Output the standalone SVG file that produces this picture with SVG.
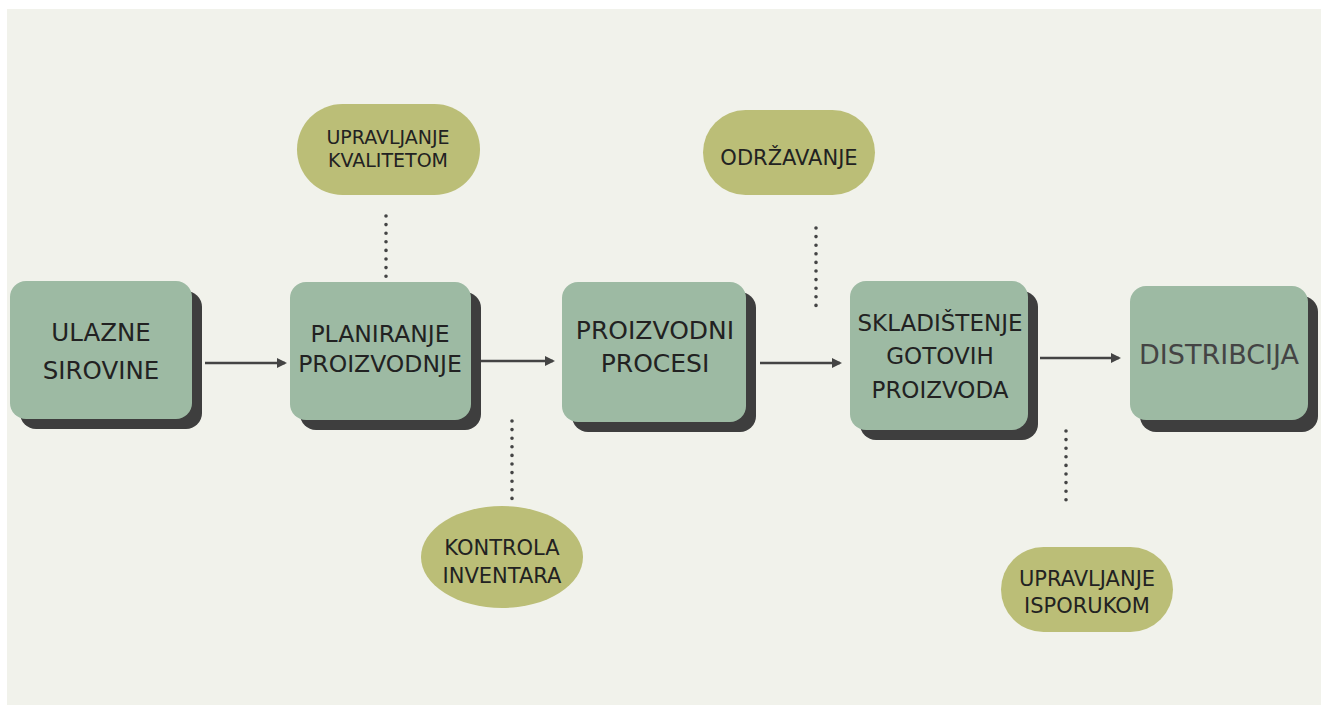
<svg xmlns="http://www.w3.org/2000/svg" width="1327" height="711" viewBox="0 0 1327 711">
<defs>
<style>
.bg{fill:#f1f2eb}
.sh{fill:#3e3e3e}
.bx{fill:#9dbaa3}
.pl{fill:#bbbe77}
.t{font-family:"DejaVu Sans","Liberation Sans",sans-serif;fill:#222;text-anchor:middle}
.dot{stroke:#444;stroke-width:3.6;stroke-linecap:round;stroke-dasharray:0 8.6;fill:none}
.ar{stroke:#444;stroke-width:2.5;fill:none;marker-end:url(#ah)}
</style>
<marker id="ah" viewBox="0 0 10 10" refX="8" refY="5" markerWidth="4" markerHeight="4" orient="auto" markerUnits="strokeWidth">
<path d="M0,0 L10,5 L0,10 z" fill="#444"/>
</marker>
</defs>
<rect x="0" y="0" width="1327" height="711" fill="#fff"/>
<rect class="bg" x="7" y="9" width="1314" height="696"/>

<g id="connectors">
<line class="ar" x1="205" y1="363" x2="285" y2="363"/>
<line class="ar" x1="481" y1="361" x2="553" y2="361"/>
<line class="ar" x1="760" y1="363" x2="840" y2="363"/>
<line class="ar" x1="1040" y1="358" x2="1119" y2="358"/>
<line class="dot" x1="386" y1="216" x2="386" y2="278"/>
<line class="dot" x1="512" y1="421" x2="512" y2="499"/>
<line class="dot" x1="816" y1="228" x2="816" y2="306"/>
<line class="dot" x1="1066" y1="431" x2="1066" y2="508"/>
</g>

<g id="ulazne">
<rect class="sh" x="20" y="291" width="182" height="138" rx="16"/>
<rect class="bx" x="10" y="281" width="182" height="138" rx="16"/>
<text class="t" font-size="24.5" x="101" y="341">ULAZNE</text>
<text class="t" font-size="24.5" x="101" y="379">SIROVINE</text>
</g>

<g id="planiranje">
<rect class="sh" x="300" y="292" width="181" height="138" rx="16"/>
<rect class="bx" x="290" y="282" width="181" height="138" rx="16"/>
<text class="t" font-size="23.5" x="380" y="342">PLANIRANJE</text>
<text class="t" font-size="23.5" x="380" y="372">PROIZVODNJE</text>
</g>

<g id="proizvodni">
<rect class="sh" x="572" y="292" width="184" height="140" rx="16"/>
<rect class="bx" x="562" y="282" width="184" height="140" rx="16"/>
<text class="t" font-size="25" x="655" y="339">PROIZVODNI</text>
<text class="t" font-size="25" x="655" y="372">PROCESI</text>
</g>

<g id="skladistenje">
<rect class="sh" x="860" y="291" width="178" height="149" rx="16"/>
<rect class="bx" x="850" y="281" width="178" height="149" rx="16"/>
<text class="t" font-size="23" x="940" y="331">SKLADIŠTENJE</text>
<text class="t" font-size="23" x="940" y="364">GOTOVIH</text>
<text class="t" font-size="23" x="940" y="398">PROIZVODA</text>
</g>

<g id="distribucija">
<rect class="sh" x="1140" y="296" width="178" height="136" rx="16"/>
<rect class="bx" x="1130" y="286" width="178" height="134" rx="16"/>
<text class="t" font-size="27" x="1219" y="364" style="fill:#444">DISTRIBCIJA</text>
</g>

<g id="kvalitet">
<rect class="pl" x="297" y="104" width="183" height="91" rx="45.5"/>
<text class="t" font-size="19" x="388" y="144">UPRAVLJANJE</text>
<text class="t" font-size="19" x="388" y="167">KVALITETOM</text>
</g>

<g id="odrzavanje">
<rect class="pl" x="703" y="110" width="172" height="85" rx="42.5"/>
<text class="t" font-size="21" x="789" y="165">ODRŽAVANJE</text>
</g>

<g id="kontrola">
<ellipse class="pl" cx="502" cy="557" rx="81" ry="51"/>
<text class="t" font-size="21" x="502" y="555">KONTROLA</text>
<text class="t" font-size="21" x="502" y="583">INVENTARA</text>
</g>

<g id="isporuka">
<rect class="pl" x="1001" y="547" width="172" height="85" rx="42.5"/>
<text class="t" font-size="21" x="1087" y="586">UPRAVLJANJE</text>
<text class="t" font-size="21" x="1087" y="613">ISPORUKOM</text>
</g>
</svg>
